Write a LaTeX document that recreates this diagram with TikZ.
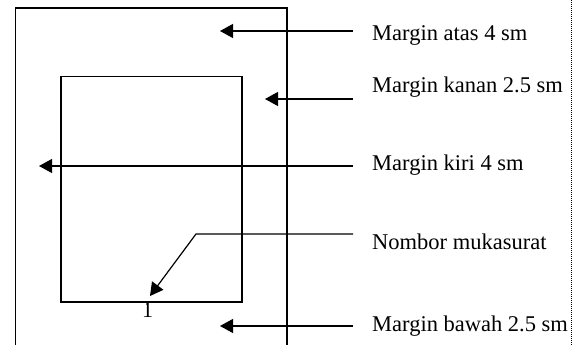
\documentclass[tikz,border=0pt]{standalone}
\usepackage{fontspec}
\setmainfont{Liberation Serif}
\usetikzlibrary{arrows.meta}
\begin{document}
\begin{tikzpicture}[x=1pt,y=-1pt,
  frame/.style={line width=1.5pt, black},
  pointer/.style={line width=1.2pt, -{Triangle[length=13pt,width=14pt]}},
  lbl/.style={anchor=base west, inner sep=0pt, font=\fontsize{22.5}{27}\selectfont}]
\useasboundingbox (0,0) rectangle (582,345);
% outer page (open at bottom)
\draw[frame] (15.5,346) -- (15.5,8) -- (287,8) -- (287,346);
% inner text area
\node[draw, line width=1.5pt, minimum width=181pt, minimum height=225pt, inner sep=0pt, anchor=north west] (inner) at (60,76) {};
% page number (partly hidden under the frame line)
\begin{scope}
\clip (146.2,302) rectangle (149.2,318) (143,314.5) rectangle (152.5,318);
\node[anchor=base, inner sep=0pt, font=\fontsize{22}{26}\selectfont] (pgnum) at (147.5,317) {1};
\end{scope}
% labels
\node[lbl] (atas) at (372,41) {Margin atas 4 sm};
\node[lbl] (kanan) at (372,93) {Margin kanan 2.5 sm};
\node[lbl] (kiri) at (372,171) {Margin kiri 4 sm};
\node[lbl] (nombor) at (372,249) {Nombor mukasurat};
\node[lbl] (bawah) at (372,331) {Margin bawah 2.5 sm};
% connector ends
\coordinate (sA) at (353,31);  \coordinate (tA) at (220,31);
\coordinate (sK) at (353,99);  \coordinate (tK) at (265,99);
\coordinate (sL) at (353,166); \coordinate (tL) at (39,166);
\coordinate (sN) at (353,234); \coordinate (bN) at (196,234); \coordinate (tN) at (150,296);
\coordinate (sB) at (353,326); \coordinate (tB) at (220,326);
\draw[pointer] (sA) -- (tA);
\draw[pointer] (sK) -- (tK);
\draw[pointer] (sL) -- (tL);
\draw[pointer] (sN) -- (bN) -- (tN);
\draw[pointer] (sB) -- (tB);
% dotted edge line
\coordinate (dTop) at (571,0); \coordinate (dBot) at (571,345);
\draw[line width=1pt, dash pattern=on 1pt off 1pt] (dTop) -- (dBot);
\end{tikzpicture}
\end{document}
